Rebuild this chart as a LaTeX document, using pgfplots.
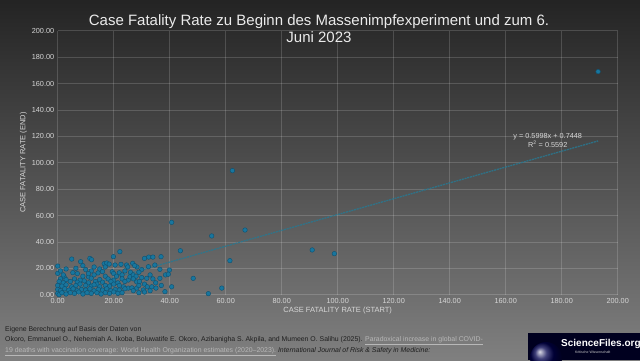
\documentclass[border=0pt]{standalone}
\usepackage{fontspec}
\setmainfont{Liberation Sans}
\usepackage{pgfplots}
\pgfplotsset{compat=1.18}
\definecolor{dotblue}{RGB}{24,118,158}
\definecolor{dotedge}{RGB}{14,80,112}
\definecolor{trend}{RGB}{40,120,145}
\definecolor{lbl}{RGB}{215,215,215}
\begin{document}
\begin{tikzpicture}[x=1pt,y=1pt]
\shade[top color=black!86, bottom color=black!50] (0,0) rectangle (640,360);
\path[use as bounding box] (0,0) rectangle (640,360);
\begin{axis}[at={(57.7pt,65.3pt)}, anchor=south west, scale only axis,
  width=560pt, height=264pt,
  xmin=0, xmax=200, ymin=0, ymax=200,
  xtick distance=20, ytick distance=20,
  grid=major, grid style={white, opacity=0.16, line width=0.5pt},
  axis line style={draw=none}, tick style={draw=none},
  /pgf/number format/.cd, fixed, fixed zerofill, precision=2, assume math mode=true, /pgfplots/.cd,
  ticklabel style={font=\fontsize{7.3}{8}\selectfont, text=lbl},
  xlabel={CASE FATALITY RATE (START)}, ylabel={CASE FATALITY RATE (END)},
  label style={font=\fontsize{7.5}{8}\selectfont, text=lbl},
  xlabel style={yshift=3pt}, ylabel style={yshift=-2pt},
  clip=false]
\addplot[trend, line width=1.3pt, dash pattern=on 2pt off 0.8pt, opacity=0.85] coordinates {(0,0.7448) (193,116.5)};
\addplot[only marks, mark=*, mark size=2.3pt, mark options={fill=dotblue, draw=dotedge, line width=0.4pt}] coordinates {
(0,21.7)(0,16.2)(2.3,13.6)(5.4,16.7)(5,27)(8.2,25)(11.5,27.5)(12.1,26.5)(19.9,28.8)(22.2,32.6)
(16.6,23.5)(17.5,24)(18.4,23.2)(17,21)(20.5,22.5)(22.6,23)(24.6,22.5)(26.8,23.8)(25,21)(28.3,21)
(27.5,22)(31,27.5)(32.5,28.5)(34,28.5)(36.9,28.8)(34.7,22.5)(32.4,21.2)(30,19)(29,17)(36.5,19.2)
(39.9,18.7)(38.5,15)(39.5,15.5)(36.5,12.4)(31.8,12.4)(28.2,9.7)(29.2,10)(40.7,6)(38.3,2.3)(33.6,6)
(35.1,5)(30.6,3.6)(25.2,11.1)(25.2,5)(26.5,5.2)(28.2,5)(25.8,13.6)(43.8,33.3)(40.7,54.8)(48.4,12.4)
(53.8,0.8)(58.6,5)(55,44.5)(61.5,25.8)(62.4,94)(66.9,49)(90.9,33.9)(98.8,31.1)(193,169)
(14.4,16.5)(19.5,17.4)(22,16.6)(20,16)(17,14)(21,14)(23,15)(9,14)(11,13.5)
(1,12)(3,11.5)(6,12)(8,11)(12,12.5)(15,11.5)(18,12)(20,11)(23,12)
(0.5,10)(2,9)(4.5,10)(7,9.5)(9.5,10.5)(11,9)(13.5,10)(16,9.5)(19,10)(21.5,9)(24,10)(14,8)
(0,7)(1.5,6.5)(3,7.5)(5,6)(6.5,7)(8,8)(10,7)(12,6.5)(13,7.5)(15,6)(17,7)(18.5,6.5)(20,8)(22,7)(23.5,6)
(0,4)(1,3)(2.5,4.5)(4,3.5)(5.5,4.5)(7,3)(8.5,4)(10,3.5)(11.5,4.5)(13,3)(14.5,4)(16,3.5)(17.5,4.5)(19,3)(20.5,4)(22,3.5)(24,4.5)
(0,1)(0.5,0)(1.5,1.5)(3,0.5)(4.5,1.5)(6,1)(7.5,2)(9,0.5)(10.5,1.5)(12,1)(14,1.5)(15.5,0.5)(17,1.5)(18.5,1)(20,2)(21.5,1)(23,1.5)
(1,18)(3,19.5)(6.5,20)(10,19)(12,18)(13,21)(15,19.5)(9,22)(7,16)(11,16)(13,15)(16,17.5)(2,15)(24,18)(26,17)
(27,15)(28,14)(30,13)(33,15)(34,12)(27,12)(29,7)(31,8)(32,6)(27,3)(29,1.5)(31,2)(33,3)(35,9)(37,7)
};
\node[font=\fontsize{7.3}{9.5}\selectfont, text=lbl, align=center] at (axis cs:175,117) {y = 0.5998x + 0.7448\\R\textsuperscript{2} = 0.5592};
\end{axis}
\node[font=\fontsize{15}{17}\selectfont, text=white!92!black, align=center] at (319,331.5) {Case Fatality Rate zu Beginn des Massenimpfexperiment und zum 6.\\Juni 2023};
\begin{scope}[font=\fontsize{6.9}{7.5}\selectfont]
\node[anchor=west, inner sep=0, text=black!88] at (5,30) {Eigene Berechnung auf Basis der Daten von};
\node[anchor=west, inner sep=0, text=black!88] at (5,19) {Okoro, Emmanuel O., Nehemiah A. Ikoba, Boluwatife E. Okoro, Azibanigha S. Akpila, and Mumeen O. Salihu (2025). \textcolor{black!28}{\underline{Paradoxical increase in global COVID-}}};
\node[anchor=west, inner sep=0, text=black!88] at (5,8) {\textcolor{black!28}{\underline{19 deaths with vaccination coverage: World Health Organization estimates (2020--2023).}} \textit{International Journal of Risk \& Safety in Medicine:}};
\end{scope}
\fill[black!88!blue] (528,0) rectangle (640,27);
\begin{scope}
\clip (528,0) rectangle (640,27);
\shade[ball color=blue!30!black] (546,2) circle (16);
\end{scope}
\node[text=white, font=\bfseries\fontsize{10}{11}\selectfont, anchor=west, inner sep=0] at (561,16) {ScienceFiles.org};
\node[text=white!80!black, font=\fontsize{3.5}{4}\selectfont, anchor=west, inner sep=0] at (575,8) {Kritische Wissenschaft};
\end{tikzpicture}
\end{document}
